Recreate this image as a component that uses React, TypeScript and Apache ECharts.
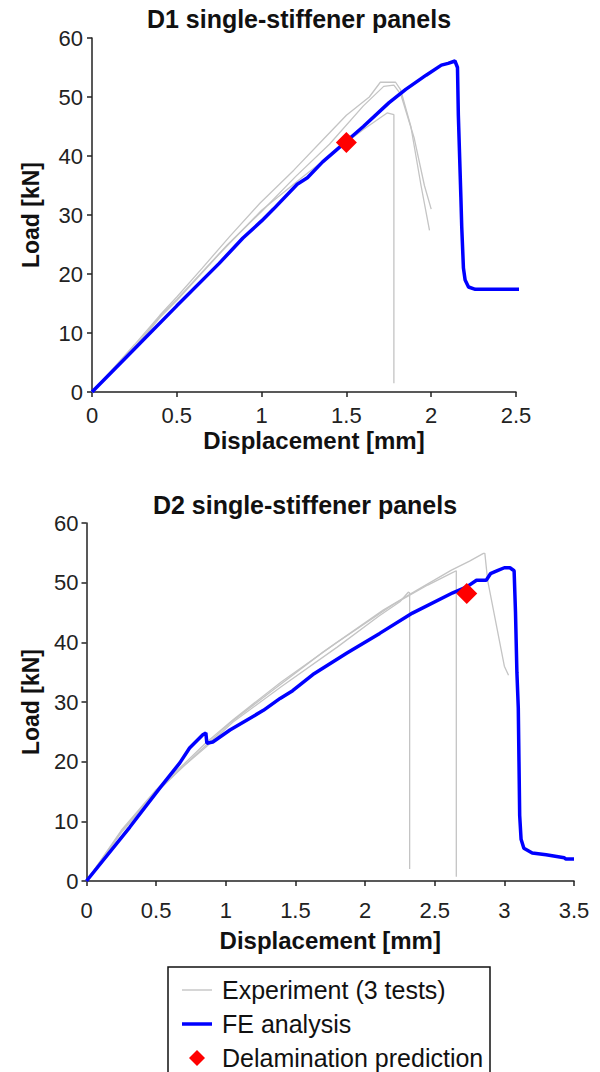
import React, { useEffect, useRef } from 'react';
import * as echarts from 'echarts';

// ---- D1 panel data (displacement mm, load kN) ----
const d1ExpA = [[0,0],[0.1,3.2],[0.25,8.0],[0.4,13.0],[0.5,16.1],[0.65,21.0],[0.81,26.3],[0.99,32.0],[1.19,37.6],[1.36,42.7],[1.5,46.9],[1.635,50.0],[1.7,52.5],[1.79,52.5],[1.82,51.2],[1.88,45],[1.94,35],[1.99,27.4]];
const d1ExpB = [[0,0],[0.1,3.0],[0.25,7.3],[0.4,12.6],[0.5,15.5],[0.75,23.4],[1.0,30.8],[1.24,36.4],[1.39,39.8],[1.5,42.3],[1.6,44.5],[1.74,47.3],[1.78,47.0],[1.78,1.5]];
const d1ExpC = [[0,0],[0.1,3.1],[0.25,7.6],[0.4,12.8],[0.5,15.7],[0.8,25.0],[1.0,30.6],[1.2,36.5],[1.4,42.0],[1.6,48.5],[1.72,51.8],[1.78,52.0],[1.82,50.5],[1.9,43],[1.96,35],[2.0,31]];
const d1FE = [[0,0],[0.25,7.3],[0.5,14.6],[0.75,21.8],[0.89,26.1],[1.0,29.0],[1.07,31.0],[1.21,35.2],[1.27,36.3],[1.36,39.0],[1.44,41.0],[1.5,42.5],[1.6,45.0],[1.75,49.0],[1.85,51.3],[1.97,53.7],[2.06,55.4],[2.1,55.7],[2.14,56.1],[2.155,55.0],[2.16,47],[2.175,33],[2.18,28],[2.19,21],[2.2,19],[2.22,17.8],[2.26,17.4],[2.56,17.4]];
const d1Delam = [[1.5,42.3]];

// ---- D2 panel data ----
const d2ExpA = [[0,0],[0.25,8.3],[0.5,15.0],[0.69,19.1],[0.86,22.8],[1.03,26.5],[1.34,32.0],[1.7,38.4],[2.13,45.4],[2.37,48.7],[2.62,52.1],[2.75,53.6],[2.85,54.9],[2.86,54.9],[2.88,50.4],[2.95,42],[3.0,36],[3.03,34.5]];
const d2ExpB = [[0,0],[0.25,8.5],[0.5,15.3],[0.7,19.6],[0.86,23.2],[1.05,27.0],[1.4,33.4],[1.8,40.0],[2.2,46.3],[2.45,49.6],[2.62,51.6],[2.655,52.0],[2.655,0.7]];
const d2ExpC = [[0,0],[0.25,8.1],[0.5,14.8],[0.7,19.3],[0.86,22.5],[1.05,26.6],[1.4,32.6],[1.8,39.2],[2.1,44.4],[2.25,46.8],[2.31,48.4],[2.32,48.3],[2.32,2.0]];
const d2FE = [[0,0],[0.31,9.0],[0.53,15.7],[0.67,19.8],[0.74,22.3],[0.835,24.5],[0.857,24.8],[0.864,23.1],[0.907,23.3],[1.03,25.3],[1.27,28.6],[1.39,30.6],[1.48,31.9],[1.625,34.6],[1.87,38.2],[2.105,41.5],[2.34,44.9],[2.63,48.3],[2.73,49.3],[2.8,50.4],[2.87,50.4],[2.9,51.5],[2.95,52.0],[3.0,52.5],[3.04,52.5],[3.07,52.0],[3.08,45],[3.09,35],[3.1,29],[3.105,20],[3.11,11],[3.12,7],[3.14,5.5],[3.2,4.7],[3.3,4.4],[3.43,3.9],[3.44,3.7],[3.5,3.7]];
const d2Delam = [[2.73,48.2]];

const xTicksD1 = { min: 0, max: 2.5, interval: 0.5 };
const xTicksD2 = { min: 0, max: 3.5, interval: 0.5 };
const yTicks = { min: 0, max: 60, interval: 10 };

const EXP = 'Experiment (3 tests)';
const FE = 'FE analysis';
const DEL = 'Delamination prediction';

const FONT = '"Liberation Sans", Arial, sans-serif';
const GRAY = '#c4c4c4';
const BLUE = '#0000ff';
const RED = '#ff0000';

export default function App() {
  const ref = useRef<HTMLDivElement>(null);
  useEffect(() => {
    const chart = echarts.init(ref.current!, null, { renderer: 'svg' });
    const axisLine = { show: true, lineStyle: { color: '#222', width: 1.5 } };
    const axisTick = { show: true, inside: false, length: 5, lineStyle: { color: '#222', width: 1.5 } };
    const axisLabel = { color: '#222', fontSize: 22, fontFamily: FONT };
    const nameStyle = { color: '#111', fontSize: 24, fontWeight: 'bold' as const, fontFamily: FONT };
    const xAxisBase = (i: number, ticks: any, gap: number, margin: number, pad: number) => ({
      type: 'value', gridIndex: i, ...ticks,
      name: 'Displacement [mm]', nameLocation: 'middle', nameGap: gap,
      nameTextStyle: { ...nameStyle, padding: [0, 0, 0, pad] },
      axisLine, axisTick, splitLine: { show: false },
      axisLabel: { ...axisLabel, margin },
    });
    const yAxisBase = (i: number, gap: number, margin: number) => ({
      type: 'value', gridIndex: i, ...yTicks,
      name: 'Load [kN]', nameLocation: 'middle', nameGap: gap,
      nameTextStyle: { ...nameStyle, fontSize: 23 },
      axisLine, axisTick, splitLine: { show: false },
      axisLabel: { ...axisLabel, margin },
    });
    const grayLine = (data: number[][], idx: number) => ({
      type: 'line', name: EXP, data, xAxisIndex: idx, yAxisIndex: idx,
      symbol: 'none', showSymbol: false, clip: false, z: 2,
      lineStyle: { color: GRAY, width: 1.3 }, itemStyle: { color: GRAY },
    });
    const blueLine = (data: number[][], idx: number) => ({
      type: 'line', name: FE, data, xAxisIndex: idx, yAxisIndex: idx,
      symbol: 'none', showSymbol: false, clip: false, z: 3,
      lineStyle: { color: BLUE, width: 3.5 }, itemStyle: { color: BLUE },
    });
    const marker = (data: number[][], idx: number) => ({
      type: 'scatter', name: DEL, data, xAxisIndex: idx, yAxisIndex: idx,
      symbol: 'diamond', symbolSize: 21, z: 4, clip: false,
      itemStyle: { color: RED, opacity: 1 },
    });
    chart.setOption({
      animation: false,
      backgroundColor: '#ffffff',
      textStyle: { fontFamily: FONT },
      grid: [
        { left: 92, top: 38, width: 424, height: 354, outerBoundsMode: 'none' },
        { left: 86.5, top: 523, width: 487.5, height: 358, outerBoundsMode: 'none' },
      ],
      xAxis: [xAxisBase(0, xTicksD1, 36, 12, 20), xAxisBase(1, xTicksD2, 47, 18, 0)],
      yAxis: [yAxisBase(0, 50, 9), yAxisBase(1, 44, 8)],
      graphic: [
        { type: 'text', x: 299, y: 19, style: { text: 'D1 single-stiffener panels', fill: '#111', font: `bold 25px ${FONT}`, textAlign: 'center', textVerticalAlign: 'middle' } },
        { type: 'text', x: 305, y: 505, style: { text: 'D2 single-stiffener panels', fill: '#111', font: `bold 25px ${FONT}`, textAlign: 'center', textVerticalAlign: 'middle' } },
        { type: 'rect', shape: { x: 168, y: 967, width: 322, height: 130 }, style: { fill: 'none', stroke: '#111', lineWidth: 1.5 }, silent: true },
      ],
      legend: {
        orient: 'vertical', left: 168, top: 967,
        data: [
          { name: EXP, icon: 'path://M0 0 H30 V1.4 H0 Z', itemStyle: { color: GRAY } },
          { name: FE, icon: 'path://M0 0 H30 V3.5 H0 Z', itemStyle: { color: BLUE } },
          { name: DEL, icon: 'path://M8 0 L16 8 L8 16 L0 8 Z', itemStyle: { color: RED, opacity: 1 } },
        ],
        padding: [9, 8, 0, 14],
        itemGap: 6, itemWidth: 30, itemHeight: 16,
        textStyle: { color: '#111', fontSize: 25, fontFamily: FONT, lineHeight: 28, padding: [0, 0, 0, 5] },
        selectedMode: false,
      },
      series: [
        grayLine(d1ExpA, 0), grayLine(d1ExpB, 0), grayLine(d1ExpC, 0),
        blueLine(d1FE, 0), marker(d1Delam, 0),
        grayLine(d2ExpA, 1), grayLine(d2ExpB, 1), grayLine(d2ExpC, 1),
        blueLine(d2FE, 1), marker(d2Delam, 1),
      ],
    });
    return () => chart.dispose();
  }, []);
  return <div ref={ref} style={{ position: 'absolute', left: 0, top: 0, width: 600, height: 1072 }} />;
}
